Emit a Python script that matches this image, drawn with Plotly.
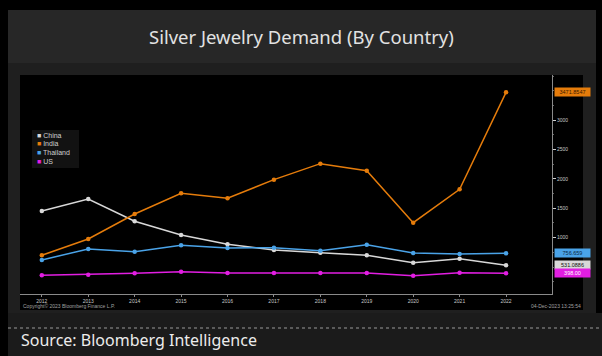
import plotly.graph_objects as go

years = list(range(2012, 2023))
series_names = ["China", "India", "Thailand", "US"]
china = [1454, 1658, 1279, 1046, 888, 791, 745, 700, 575, 643, 531]
india = [700, 978, 1403, 1755, 1670, 1987, 2259, 2140, 1255, 1823, 3472]
thailand = [621, 808, 762, 871, 825, 830, 779, 881, 740, 723, 735]
us = [360, 371, 394, 422, 400, 400, 400, 400, 354, 405, 395]
last_labels = ["531.0886", "3471.8547", "756.659", "398.00"]
colors = ["#d8d8d8", "#e57c0b", "#4aa3e8", "#e21ee2"]
label_text_colors = ["#111111", "#3a1a00", "#0a2a45", "#ffffff"]
y_ticks = [1000, 1500, 2000, 2500, 3000]

W, H = 602, 356
def px(x):
    return x / W
def py(y):
    return (H - y) / H

fig = go.Figure()
all_series = [china, india, thailand, us]
for name, vals, col in zip(series_names, all_series, colors):
    fig.add_trace(go.Scatter(
        x=years, y=vals, mode="lines+markers", name=name,
        line=dict(color=col, width=1.5),
        marker=dict(color=col, size=4.5, symbol="circle"),
        showlegend=False, hoverinfo="x+y+name"))

shapes = [
    dict(type="rect", xref="paper", yref="paper", x0=px(8), x1=px(596), y0=py(313), y1=py(10),
         fillcolor="#1f1f1f", line=dict(width=0), layer="below"),
    dict(type="rect", xref="paper", yref="paper", x0=px(8), x1=px(596), y0=py(63), y1=py(10),
         fillcolor="#272727", line=dict(width=0), layer="below"),
    dict(type="rect", xref="paper", yref="paper", x0=px(20), x1=px(583), y0=py(310), y1=py(75),
         fillcolor="#000000", line=dict(width=0), layer="below"),
    dict(type="rect", xref="paper", yref="paper", x0=px(8), x1=1, y0=0, y1=py(313),
         fillcolor="#1b1b1b", line=dict(width=0), layer="below"),
    dict(type="line", xref="paper", yref="paper", x0=px(8), x1=1, y0=py(328), y1=py(328),
         line=dict(color="#9a9a9a", width=1, dash="dot")),
    dict(type="rect", xref="paper", yref="paper", x0=px(32), x1=px(79), y0=py(168), y1=py(130),
         fillcolor="#121212", line=dict(width=0)),
]

annotations = [
    dict(text="Silver Jewelry Demand (By Country)", xref="paper", yref="paper",
         x=0.5, y=py(37), xanchor="center", yanchor="middle", showarrow=False,
         font=dict(family="Noto Sans", size=18.5, color="#e2e2e2")),
    dict(text="Source: Bloomberg Intelligence", xref="paper", yref="paper",
         x=px(19), y=py(340), xanchor="left", yanchor="middle", showarrow=False,
         font=dict(family="Noto Sans", size=16, color="#ececec")),
    dict(text="Copyright\u00a9 2023 Bloomberg Finance L.P.", xref="paper", yref="paper",
         x=px(21), y=py(306), xanchor="left", yanchor="middle", showarrow=False,
         font=dict(family="Liberation Sans", size=5, color="#a0a0a0")),
    dict(text="04-Dec-2023 13:25:54", xref="paper", yref="paper",
         x=px(583), y=py(306), xanchor="right", yanchor="middle", showarrow=False,
         font=dict(family="Liberation Sans", size=5, color="#a0a0a0")),
]

for i, (name, col) in enumerate(zip(series_names, colors)):
    yy = 135 + i * 8.7
    annotations.append(dict(
        text=f"<span style='color:{col}'>\u25a0</span> {name}", xref="paper", yref="paper",
        x=px(35), y=py(yy), xanchor="left", yanchor="middle", showarrow=False,
        font=dict(family="Liberation Sans", size=7, color="#d0d0d0")))

for vals, lab, col, tcol in zip(all_series, last_labels, colors, label_text_colors):
    annotations.append(dict(
        text=lab, xref="paper", yref="y", x=px(554), y=vals[-1],
        xanchor="left", yanchor="middle", showarrow=False,
        bgcolor=col, borderpad=1, width=33,
        font=dict(family="Liberation Sans", size=5.5, color=tcol)))

fig.update_layout(
    width=W, height=H,
    margin=dict(l=0, r=0, t=0, b=0),
    paper_bgcolor="#000000",
    plot_bgcolor="#000000",
    shapes=shapes,
    annotations=annotations,
    showlegend=False,
    xaxis=dict(
        domain=[px(20), px(552)], range=[2011.53, 2022.99],
        tickmode="array", tickvals=years, ticktext=[str(y) for y in years],
        showgrid=False, zeroline=False, showline=True, linecolor="#8a8a8a", linewidth=1,
        ticks="outside", ticklen=2, tickcolor="#8a8a8a",
        tickfont=dict(family="Liberation Sans", size=5, color="#c8c8c8"),
    ),
    yaxis=dict(
        domain=[py(294), py(75)], range=[42, 3767], side="right",
        tickmode="array", tickvals=y_ticks,
        showgrid=False, zeroline=False, showline=True, linecolor="#8a8a8a", linewidth=1,
        ticks="outside", ticklen=3, tickcolor="#cfcfcf",
        tickfont=dict(family="Liberation Sans", size=5, color="#c8c8c8"),
        minor=dict(ticks="outside", ticklen=1, tickcolor="#666666", dtick=250, tick0=0),
    ),
)

fig.write_html("out.html", config={"displayModeBar": False},
               post_script="document.body.style.margin='0px';document.body.style.overflow='hidden';")
